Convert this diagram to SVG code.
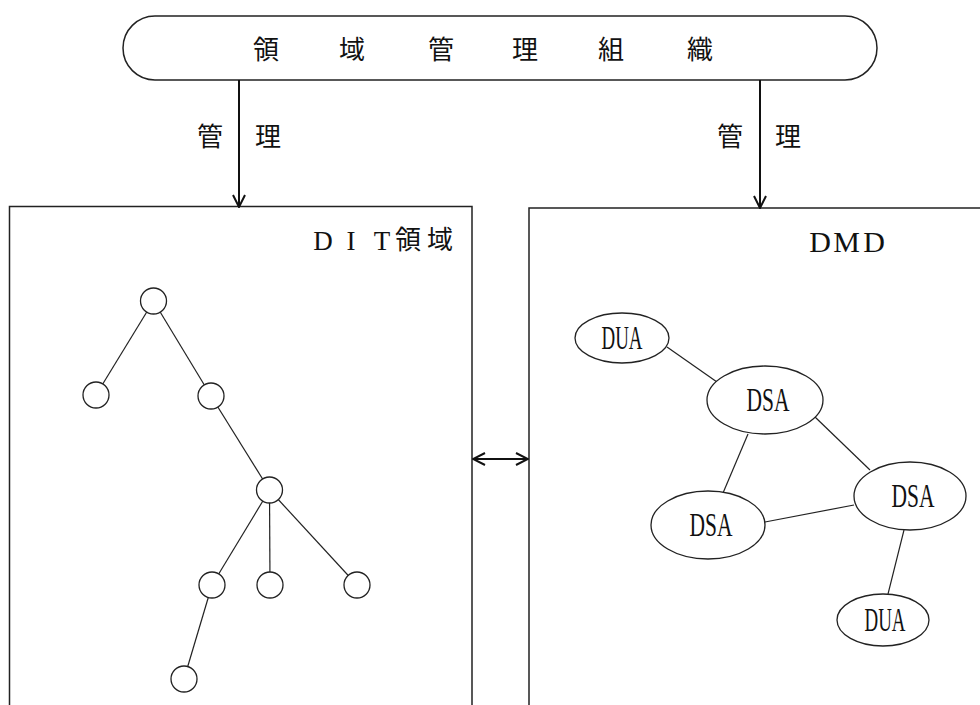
<svg xmlns="http://www.w3.org/2000/svg" width="980" height="705" viewBox="0 0 980 705">
<style>
.bg{fill:#fff}
.frame{fill:none;stroke:#222;stroke-width:1.5}
.arr{fill:none;stroke:#111;stroke-width:2}
.edge{fill:none;stroke:#222;stroke-width:1.2}
.node{fill:#fff;stroke:#222;stroke-width:1.3}
.cjk{font-family:"Noto Sans CJK JP","Noto Sans CJK SC",sans-serif;font-size:26px;fill:#111;text-anchor:middle}
.lat{font-family:"Liberation Serif",serif;fill:#111;text-anchor:middle}
.lbl{font-family:"Liberation Serif",serif;font-size:33px;fill:#111;text-anchor:middle}
</style>
<defs>
<marker id="vh" viewBox="0 0 14 14" refX="13" refY="7" markerWidth="14" markerHeight="14" markerUnits="userSpaceOnUse" orient="auto-start-reverse">
<path d="M1,1 L13,7 L1,13" fill="none" stroke="#111" stroke-width="2"/>
</marker>
</defs>
<rect class="bg" x="0" y="0" width="980" height="705"/>

<g id="org">
<rect class="frame" x="123" y="16" width="754" height="64" rx="32" ry="32"/>
<text class="cjk" y="59" font-size="28"><tspan x="266">領</tspan><tspan x="352">域</tspan><tspan x="441">管</tspan><tspan x="525">理</tspan><tspan x="611">組</tspan><tspan x="700">織</tspan></text>
</g>

<g id="dit-domain">
<path class="frame" d="M9.5,705 V206.5 H472 V705"/>
<text class="lat" y="250" font-size="27"><tspan x="323">D</tspan><tspan x="351">I</tspan><tspan x="382">T</tspan></text>
<text class="cjk" y="249"><tspan x="408">領</tspan><tspan x="440">域</tspan></text>
</g>

<g id="dmd">
<path class="frame" d="M529,705 V208 H980"/>
<text class="lat" y="252" font-size="30"><tspan x="820">D</tspan><tspan x="846.5">M</tspan><tspan x="874">D</tspan></text>
</g>

<g id="connectors">
<line class="arr" x1="239" y1="80" x2="239" y2="207" marker-end="url(#vh)"/>
<line class="arr" x1="760" y1="80" x2="760" y2="208" marker-end="url(#vh)"/>
<line class="arr" x1="473" y1="459" x2="528" y2="459" marker-start="url(#vh)" marker-end="url(#vh)"/>
<line class="edge" x1="153.5" y1="301" x2="96" y2="395"/>
<line class="edge" x1="153.5" y1="301" x2="211" y2="396"/>
<line class="edge" x1="211" y1="396" x2="269.5" y2="490"/>
<line class="edge" x1="269.5" y1="490" x2="212" y2="585"/>
<line class="edge" x1="269.5" y1="490" x2="270" y2="585"/>
<line class="edge" x1="269.5" y1="490" x2="357" y2="585"/>
<line class="edge" x1="212" y1="585" x2="184" y2="679"/>
<line class="edge" x1="667" y1="347" x2="717" y2="382"/>
<line class="edge" x1="748" y1="434" x2="723" y2="493"/>
<line class="edge" x1="815" y1="417" x2="870" y2="470"/>
<line class="edge" x1="765" y1="522" x2="854" y2="505"/>
<line class="edge" x1="904" y1="530" x2="888" y2="594"/>
<text class="cjk" x="210" y="146">管</text>
<text class="cjk" x="268" y="146">理</text>
<text class="cjk" x="730" y="146">管</text>
<text class="cjk" x="788" y="146">理</text>
</g>

<g id="tree">
<circle id="t1" class="node" cx="153.5" cy="301" r="13"/>
<circle id="t2" class="node" cx="96" cy="395" r="13"/>
<circle id="t3" class="node" cx="211" cy="396" r="13"/>
<circle id="t4" class="node" cx="269.5" cy="490" r="13"/>
<circle id="t5" class="node" cx="212" cy="585" r="13"/>
<circle id="t6" class="node" cx="270" cy="585" r="13"/>
<circle id="t7" class="node" cx="357" cy="585" r="13"/>
<circle id="t8" class="node" cx="184" cy="679" r="13"/>
</g>

<g id="dua1">
<ellipse class="node" cx="622" cy="338" rx="47" ry="25"/>
<text class="lbl" x="622" y="349" textLength="41" lengthAdjust="spacingAndGlyphs">DUA</text>
</g>
<g id="dsa1">
<ellipse class="node" cx="765" cy="400" rx="58" ry="34"/>
<text class="lbl" x="768" y="411" textLength="43" lengthAdjust="spacingAndGlyphs">DSA</text>
</g>
<g id="dsa2">
<ellipse class="node" cx="910" cy="496" rx="56" ry="34"/>
<text class="lbl" x="913" y="507" textLength="43" lengthAdjust="spacingAndGlyphs">DSA</text>
</g>
<g id="dsa3">
<ellipse class="node" cx="708" cy="525" rx="57" ry="34"/>
<text class="lbl" x="711" y="536" textLength="43" lengthAdjust="spacingAndGlyphs">DSA</text>
</g>
<g id="dua2">
<ellipse class="node" cx="883" cy="620" rx="46" ry="26"/>
<text class="lbl" x="885" y="631" textLength="41" lengthAdjust="spacingAndGlyphs">DUA</text>
</g>
</svg>
